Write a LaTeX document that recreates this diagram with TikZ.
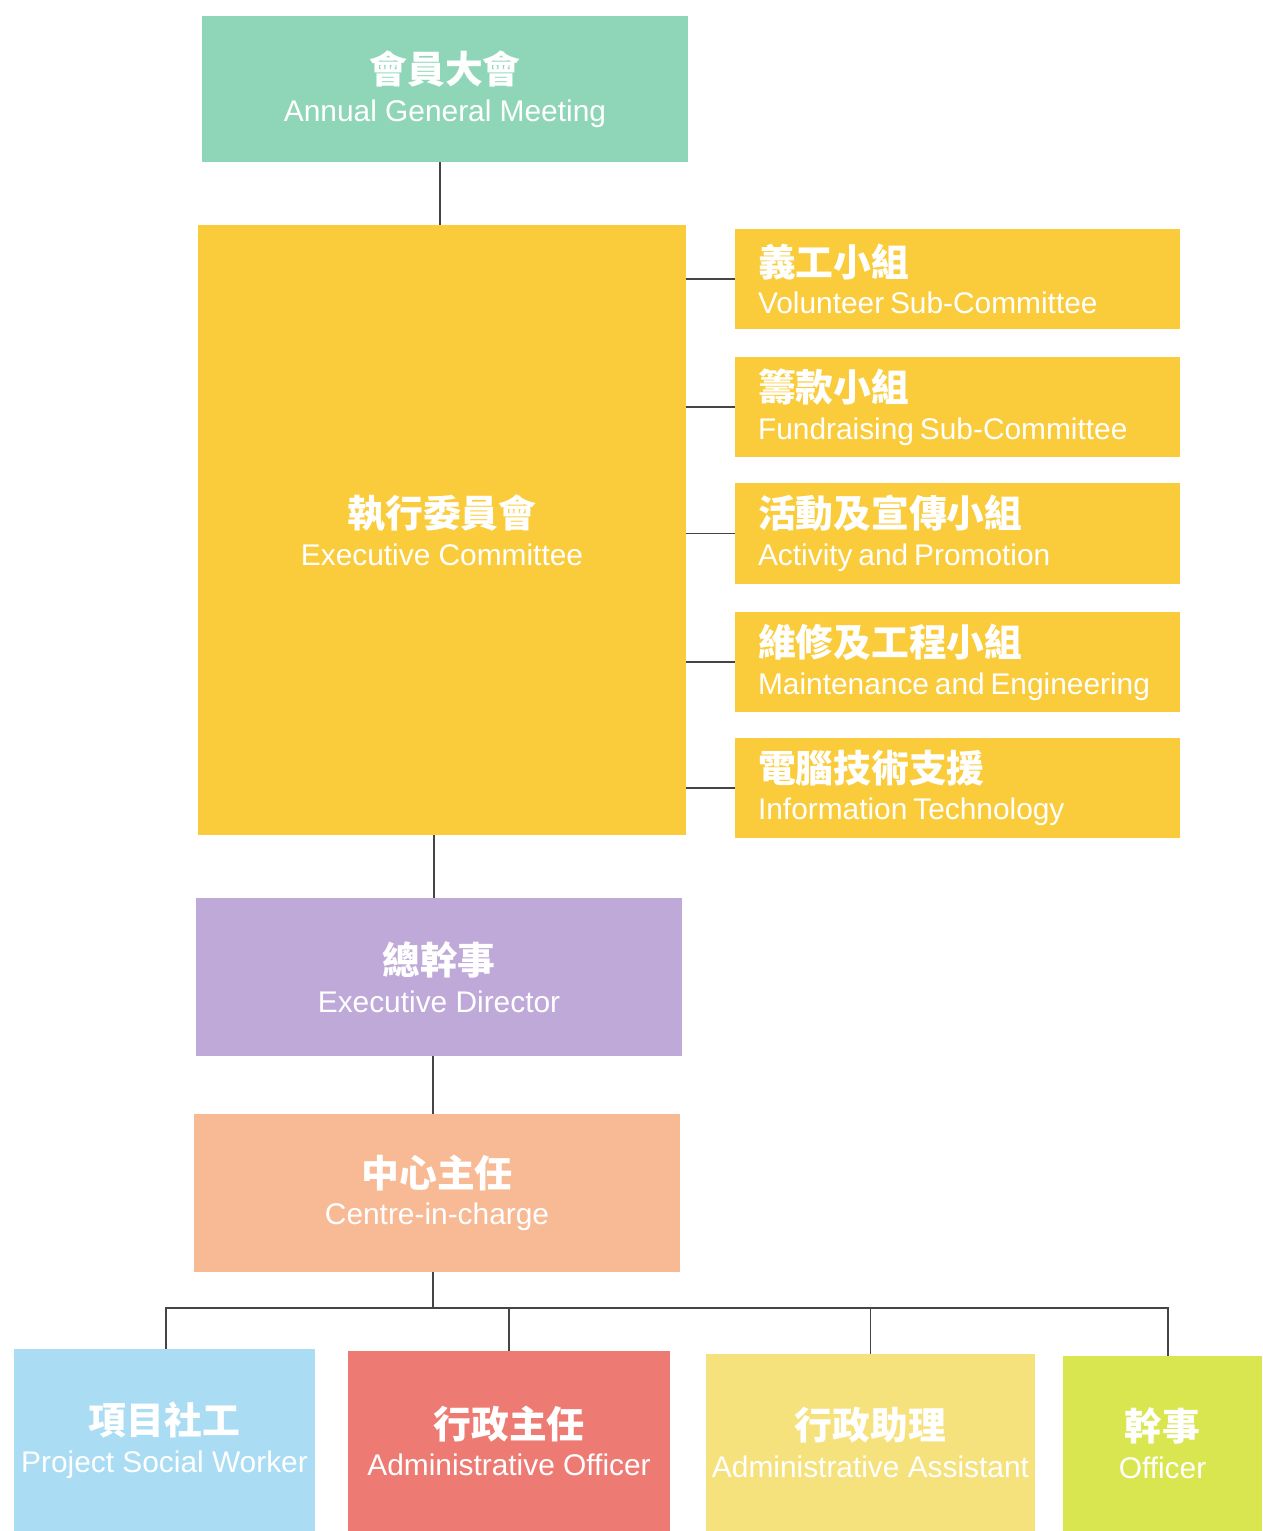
\documentclass[tikz,border=0pt]{standalone}
\usepackage{fontspec}
\setmainfont{Liberation Sans}
\newfontfamily\cjk{Noto Sans CJK TC}
\definecolor{agmc}{HTML}{8FD6B9}
\definecolor{execc}{HTML}{FACC3C}
\definecolor{edc}{HTML}{BFA9D9}
\definecolor{cicc}{HTML}{F8BA95}
\definecolor{bluec}{HTML}{AADCF3}
\definecolor{redc}{HTML}{EE7B73}
\definecolor{yelc}{HTML}{F6E27C}
\definecolor{grnc}{HTML}{DAE650}
\definecolor{linec}{HTML}{454545}
\newcommand{\zh}[1]{{\cjk\bfseries\fontsize{21.5}{25}\selectfont #1}}
\newcommand{\en}[1]{{\fontsize{17}{20}\selectfont #1}}
\newcommand{\tl}[2]{\zh{#1}\\[6pt]\en{#2}}
\tikzset{
  box/.style={rectangle, draw=none, text=white, align=center, inner sep=0pt},
  subbox/.style={box, fill=execc, minimum width=8.9cm, minimum height=2.02cm,
     text width=7.98cm, align=left, inner xsep=0.46cm},
  conn/.style={draw=linec, line width=1.1pt}
}
\begin{document}
\begin{tikzpicture}[x=0.02cm, y=-0.02cm]
\useasboundingbox (0,0) rectangle (1262,1531);
\fill[white] (0,0) rectangle (1262,1531);
% boxes
\node[box, fill=agmc, minimum width=9.72cm, minimum height=2.92cm] (agm) at (445,89) {\tl{會員大會}{Annual General Meeting}};
\node[box, fill=execc, minimum width=9.76cm, minimum height=12.2cm] (exec) at (442,530) {\tl{執行委員會}{Executive Committee}};
\node[subbox] (s1) at (957.5,279) {\tl{義工小組}{Volunteer Sub-Committee}};
\node[subbox] (s2) at (957.5,407) {\tl{籌款小組}{Fundraising Sub-Committee}};
\node[subbox] (s3) at (957.5,533.5) {\tl{活動及宣傳小組}{Activity and Promotion}};
\node[subbox] (s4) at (957.5,662) {\tl{維修及工程小組}{Maintenance and Engineering}};
\node[subbox] (s5) at (957.5,788) {\tl{電腦技術支援}{Information Technology}};
\node[box, fill=edc, minimum width=9.72cm, minimum height=3.16cm] (ed) at (439,977) {\tl{總幹事}{Executive Director}};
\node[box, fill=cicc, minimum width=9.72cm, minimum height=3.16cm] (cic) at (437,1193) {\tl{中心主任}{Centre-in-charge}};
\node[box, fill=bluec, minimum width=6.02cm, minimum height=3.64cm] (b1) at (164.5,1440) {\tl{項目社工}{Project Social Worker}};
\node[box, fill=redc, minimum width=6.44cm, minimum height=3.6cm] (b2) at (509,1441) {\tl{行政主任}{Administrative Officer}};
\node[box, fill=yelc, minimum width=6.58cm, minimum height=3.54cm] (b3) at (870.5,1442.5) {\tl{行政助理}{Administrative Assistant}};
\node[box, fill=grnc, minimum width=3.98cm, minimum height=3.5cm] (b4) at (1162.5,1443.5) {\tl{幹事}{Officer}};
% connectors
\coordinate (bus) at (433,1308);
\coordinate (d1) at (166,1308);
\coordinate (d4) at (1168,1308);
\draw[conn] (agm.south -| 440,0) -- (exec.north -| 440,0);
\foreach \s in {s1,s2,s3,s4,s5}{
  \draw[conn] (exec.east |- \s.west) -- (\s.west);
}
\draw[conn] (exec.south -| 434,0) -- (ed.north -| 434,0);
\draw[conn] (ed.south -| 433,0) -- (cic.north -| 433,0);
\draw[conn] (cic.south -| bus) -- (bus);
\draw[conn] (d1 |- b1.north) -- (d1) -- (d4) -- (d4 |- b4.north);
\draw[conn] (b2.north) -- (b2.north |- bus);
\draw[conn] (b3.north) -- (b3.north |- bus);
\end{tikzpicture}
\end{document}
